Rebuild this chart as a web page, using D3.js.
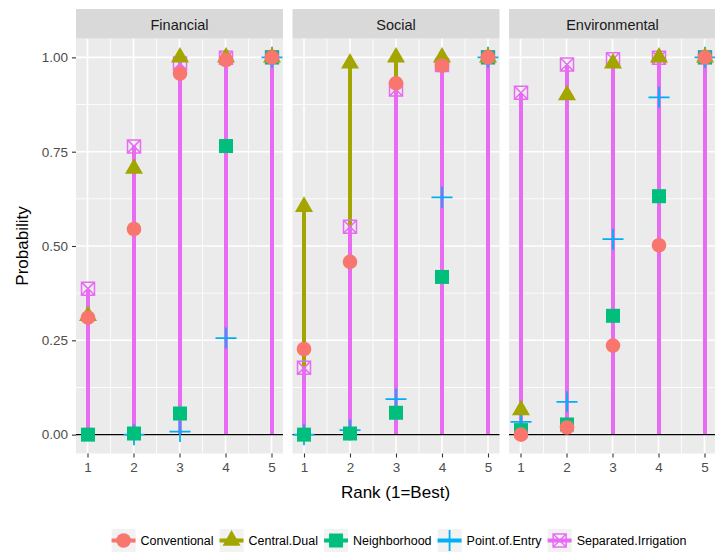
<!DOCTYPE html>
<html><head><meta charset="utf-8">
<script src="https://cdn.jsdelivr.net/npm/d3@7"></script>
<style>body{margin:0;background:#fff} svg{display:block} text{font-family:"Liberation Sans",Arial,sans-serif}</style>
</head><body><svg id="c" width="715" height="552"></svg>
<script>
const facets = ["Financial","Social","Environmental"];
const ranks = [1,2,3,4,5];
const seriesNames = ["Conventional","Central.Dual","Neighborhood","Point.of.Entry","Separated.Irrigation"];
const seriesColors = ["#F8766D","#A3A500","#00BF7D","#00B0F6","#E76BF3"];
const yTicks = [0,0.25,0.5,0.75,1];
const yTickLabels = ["0.00","0.25","0.50","0.75","1.00"];
// values per facet (Financial, Social, Environmental), per rank 1..5
const conventional        = [[0.31,0.545,0.957,0.993,1.0],[0.227,0.458,0.931,0.978,1.0],[0.0,0.019,0.236,0.502,1.0]];
const centralDual         = [[0.315,0.705,1.0,1.0,1.0],[0.604,0.984,1.0,1.0,1.0],[0.065,0.90,0.984,1.0,1.0]];
const neighborhood        = [[0.0,0.003,0.056,0.765,1.0],[0.0,0.003,0.058,0.418,1.0],[0.012,0.027,0.315,0.632,1.0]];
const pointOfEntry        = [[null,0.0,0.008,0.256,1.0],[0.0,0.012,0.094,0.629,1.0],[0.034,0.087,0.518,0.894,1.0]];
const separatedIrrigation = [[0.387,0.764,0.984,0.999,1.0],[0.177,0.551,0.915,0.98,1.0],[0.906,0.981,0.995,0.999,1.0]];
const seriesValues = [conventional, centralDual, neighborhood, pointOfEntry, separatedIrrigation];

const svg = d3.select("#c");
const font = '"Liberation Sans",Arial,sans-serif';
const panelLeft0 = 76, panelW = 207, panelGap = 9.5;
const stripTop = 9, panelTop = 38.5, panelBottom = 453.5;
const y = d3.scaleLinear().domain([-0.05,1.05]).range([panelBottom, panelTop]);

function drawShape(g, si, cx, cy, color) {
  if (si === 0) {
    g.append("circle").attr("cx",cx).attr("cy",cy).attr("r",7.3).attr("fill",color);
  } else if (si === 1) {
    const r = 10.4, xc = r*Math.sqrt(3)/2;
    g.append("path").attr("d",`M${cx},${cy-r}L${cx+xc},${cy+r/2}L${cx-xc},${cy+r/2}Z`).attr("fill",color);
  } else if (si === 2) {
    g.append("rect").attr("x",cx-7).attr("y",cy-7).attr("width",14).attr("height",14).attr("fill",color);
  } else if (si === 3) {
    g.append("path").attr("d",`M${cx-10.5},${cy}H${cx+10.5}M${cx},${cy-10.5}V${cy+10.5}`)
      .attr("stroke",color).attr("stroke-width",1.8).attr("fill","none");
  } else {
    const h = 6.5;
    g.append("path").attr("d",`M${cx-h},${cy-h}H${cx+h}V${cy+h}H${cx-h}ZM${cx-h},${cy-h}L${cx+h},${cy+h}M${cx+h},${cy-h}L${cx-h},${cy+h}`)
      .attr("stroke",color).attr("stroke-width",1.5).attr("fill","none");
  }
}

facets.forEach((f, fi) => {
  const left = panelLeft0 + fi*(panelW+panelGap);
  const x = d3.scaleLinear().domain([0.75,5.25]).range([left, left+panelW]);
  const g = svg.append("g");
  g.append("rect").attr("x",left).attr("y",panelTop).attr("width",panelW).attr("height",panelBottom-panelTop).attr("fill","#EBEBEB");
  [0.125,0.375,0.625,0.875].forEach(v => g.append("line").attr("x1",left).attr("x2",left+panelW).attr("y1",y(v)).attr("y2",y(v)).attr("stroke","#fff").attr("stroke-width",0.8));
  [1.5,2.5,3.5,4.5].forEach(v => g.append("line").attr("x1",x(v)).attr("x2",x(v)).attr("y1",panelTop).attr("y2",panelBottom).attr("stroke","#fff").attr("stroke-width",0.8));
  yTicks.forEach(v => g.append("line").attr("x1",left).attr("x2",left+panelW).attr("y1",y(v)).attr("y2",y(v)).attr("stroke","#fff").attr("stroke-width",1.6));
  ranks.forEach(v => g.append("line").attr("x1",x(v)).attr("x2",x(v)).attr("y1",panelTop).attr("y2",panelBottom).attr("stroke","#fff").attr("stroke-width",1.6));
  g.append("rect").attr("x",left).attr("y",stripTop).attr("width",panelW).attr("height",panelTop-stripTop).attr("fill","#D9D9D9");
  g.append("text").attr("x",left+panelW/2).attr("y",30).attr("text-anchor","middle").attr("font-size",14.5).attr("fill","#1A1A1A").text(f);
  // segments (pixel-snapped so the top one fully covers those beneath)
  seriesValues.forEach((sv, si) => {
    sv[fi].forEach((v, ri) => {
      if (v === null) return;
      const xs = Math.round(x(ranks[ri]));
      g.append("line").attr("x1",xs).attr("x2",xs).attr("y1",y(0)).attr("y2",y(v))
        .attr("stroke",seriesColors[si]).attr("stroke-width",4).attr("shape-rendering","crispEdges");
    });
  });
  g.append("line").attr("x1",left).attr("x2",left+panelW).attr("y1",y(0)).attr("y2",y(0)).attr("stroke","#000").attr("stroke-width",1.2);
  for (let si = seriesValues.length-1; si >= 0; si--) {
    seriesValues[si][fi].forEach((v, ri) => {
      if (v === null) return;
      drawShape(g, si, Math.round(x(ranks[ri])), y(v), seriesColors[si]);
    });
  }
  const xa = g.append("g").attr("transform",`translate(0,${panelBottom})`)
    .call(d3.axisBottom(x).tickValues(ranks).tickFormat(d3.format("d")).tickSize(4).tickPadding(5));
  xa.select(".domain").remove();
  xa.selectAll("line").attr("stroke","#333").attr("stroke-width",1.1);
  xa.selectAll("text").attr("fill","#4D4D4D").attr("font-size",13.5).attr("font-family",font);
});

const ya = svg.append("g").attr("transform",`translate(${panelLeft0},0)`)
  .call(d3.axisLeft(y).tickValues(yTicks).tickFormat((d,i)=>yTickLabels[i]).tickSize(4).tickPadding(4));
ya.select(".domain").remove();
ya.selectAll("line").attr("stroke","#333").attr("stroke-width",1.1);
ya.selectAll("text").attr("fill","#4D4D4D").attr("font-size",13.5).attr("font-family",font);

svg.append("text").attr("x",(panelLeft0+715)/2).attr("y",498).attr("text-anchor","middle").attr("font-size",17).attr("fill","#000").text("Rank (1=Best)");
svg.append("text").attr("transform",`translate(28,${(panelTop+panelBottom)/2}) rotate(-90)`).attr("text-anchor","middle").attr("font-size",17).attr("fill","#000").text("Probability");

const lg = svg.append("g");
const keyW = 24, keyH = 23, keyTop = 529, txtGap = 5, itemGap = 6, legFont = 12.5;
const tmp = svg.append("text").attr("font-size",legFont);
const widths = seriesNames.map(n => { tmp.text(n); return tmp.node().getComputedTextLength(); });
tmp.remove();
const total = d3.sum(widths) + seriesNames.length*(keyW+txtGap) + (seriesNames.length-1)*itemGap;
let cx0 = 399 - total/2;
seriesNames.forEach((n, si) => {
  lg.append("rect").attr("x",cx0).attr("y",keyTop).attr("width",keyW).attr("height",keyH).attr("fill","#F2F2F2");
  const kc = keyTop + keyH/2;
  lg.append("line").attr("x1",cx0).attr("x2",cx0+keyW).attr("y1",kc).attr("y2",kc).attr("stroke",seriesColors[si]).attr("stroke-width",4);
  drawShape(lg, si, cx0+keyW/2, kc, seriesColors[si]);
  lg.append("text").attr("x",cx0+keyW+txtGap).attr("y",kc+4.5).attr("font-size",legFont).attr("fill","#000").text(n);
  cx0 += keyW + txtGap + widths[si] + itemGap;
});
</script></body></html>
